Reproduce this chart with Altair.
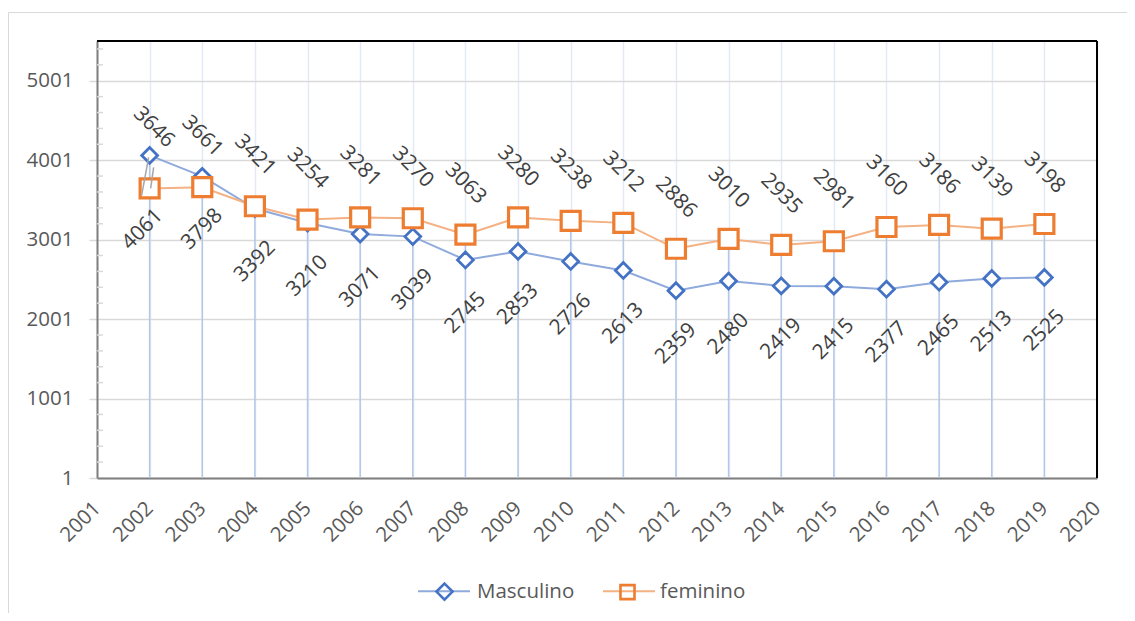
import altair as alt
import pandas as pd

# ---- data ----
years = list(range(2002, 2020))
masculino = [4061, 3798, 3392, 3210, 3071, 3039, 2745, 2853, 2726, 2613,
             2359, 2480, 2419, 2415, 2377, 2465, 2513, 2525]
feminino = [3646, 3661, 3421, 3254, 3281, 3270, 3063, 3280, 3238, 3212,
            2886, 3010, 2935, 2981, 3160, 3186, 3139, 3198]
series_names = ["Masculino", "feminino"]
x_ticks = list(range(2001, 2021))
y_ticks = [1, 1001, 2001, 3001, 4001, 5001]
y_minor = [v for v in range(201, 5501, 200) if v not in y_ticks]
X_MIN, X_MAX = 2001, 2020
Y_MIN, Y_MAX = 1, 5501

FONT = "Open Sans"
BLUE, BLUE_L = "#4472c4", "#8faadc"
ORANGE, ORANGE_L = "#ed7d31", "#f4b183"

df = pd.DataFrame({"year": years, "masc": masculino, "fem": feminino})
df["top"] = df[["masc", "fem"]].max(axis=1)
df["base"] = 1
long_df = pd.DataFrame({
    "year": years * 2,
    "value": masculino + feminino,
    "series": [series_names[0]] * len(years) + [series_names[1]] * len(years),
})
minor_df = pd.DataFrame({"v": y_minor})
one_df = pd.DataFrame({"a": [0]})

x_axis = alt.Axis(values=x_ticks, format="d", title=None, grid=True,
                  gridColor="#e3eaf6", gridWidth=1.5, tickSize=0,
                  domainColor="#7f7f7f", domainWidth=2,
                  labelAngle=315, labelAlign="right", labelBaseline="middle",
                  labelPadding=27, labelFontSize=20.5, labelColor="#595959",
                  labelFont=FONT)
y_axis = alt.Axis(values=y_ticks, format="d", title=None, grid=True,
                  gridColor="#d9d9d9", gridWidth=1.5, tickColor="#d9d9d9",
                  tickSize=8, tickWidth=1.5, domainColor="#7f7f7f",
                  domainWidth=2, labelPadding=16, labelFontSize=20.5,
                  labelColor="#595959", labelFont=FONT)
x_scale = alt.Scale(domain=[X_MIN, X_MAX], nice=False, zero=False)
y_scale = alt.Scale(domain=[Y_MIN, Y_MAX], nice=False, zero=False)


def X(field="year"):
    return alt.X(f"{field}:Q", scale=x_scale, axis=x_axis)


def Y(field):
    return alt.Y(f"{field}:Q", scale=y_scale, axis=y_axis)


base = alt.Chart(df)
one = alt.Chart(one_df)

border = one.mark_rect(
    fill=None, stroke="#d9d9d9", strokeWidth=1
).encode(x=alt.value(-88.5), x2=alt.value(1300), y=alt.value(-28.5), y2=alt.value(700))

# black top and right frame of the plot area
frame_top = one.mark_rule(color="#000000", strokeWidth=2).encode(
    x=alt.datum(X_MIN, scale=x_scale), x2=alt.datum(X_MAX), y=alt.datum(Y_MAX, scale=y_scale))
frame_right = one.mark_rule(color="#000000", strokeWidth=2).encode(
    x=alt.datum(X_MAX, scale=x_scale), y=alt.datum(Y_MIN, scale=y_scale), y2=alt.datum(Y_MAX))

minor = alt.Chart(minor_df).mark_rule(color="#d9d9d9", strokeWidth=1.5).encode(
    x=alt.value(0), x2=alt.value(6), y=Y("v"))

drops = base.mark_rule(color="#b4c7e7", strokeWidth=1.5).encode(
    x=X(), y=Y("top"), y2="base")

line_m = base.mark_line(color=BLUE_L, strokeWidth=2).encode(x=X(), y=Y("masc"))
line_f = base.mark_line(color=ORANGE_L, strokeWidth=2).encode(x=X(), y=Y("fem"))

pts_m = base.mark_point(shape="diamond", size=250, filled=True, fill="white",
                        stroke=BLUE, strokeWidth=2.8, opacity=1).encode(
    x=X(), y=Y("masc"))
pts_f = base.mark_point(shape="square", size=361, filled=True, fill="white",
                        stroke=ORANGE, strokeWidth=3.2, opacity=1).encode(
    x=X(), y=Y("fem"))

txt = dict(font=FONT, fontSize=21, color="#404040", align="center", baseline="middle")
lab_f = base.transform_filter("datum.year > 2002").mark_text(
    angle=45, yOffset=-51, **txt).encode(x=X(), y=Y("fem"), text="fem:Q")
lab_m = base.transform_filter("datum.year > 2002").mark_text(
    angle=315, yOffset=53, **txt).encode(x=X(), y=Y("masc"), text="masc:Q")
lab_f0 = base.transform_filter("datum.year == 2002").mark_text(
    angle=45, xOffset=4, yOffset=-61, **txt).encode(x=X(), y=Y("fem"), text="fem:Q")
lab_m0 = base.transform_filter("datum.year == 2002").mark_text(
    angle=315, xOffset=-7, yOffset=74, **txt).encode(x=X(), y=Y("masc"), text="masc:Q")

lead1 = base.transform_filter("datum.year == 2002").mark_rule(
    color="#a6a6a6", strokeWidth=1.5, xOffset=-1, yOffset=2, x2Offset=-8, y2Offset=40
).encode(x=X(), x2="year", y=Y("masc"), y2="masc")
lead2 = base.transform_filter("datum.year == 2002").mark_rule(
    color="#a6a6a6", strokeWidth=1.5, xOffset=4, yOffset=-21, x2Offset=1, y2Offset=0
).encode(x=X(), x2="year", y=Y("fem"), y2="fem")

# legend: light connecting line (one legend) + marker (second legend) at same place
line_path = "M-1,0L1,0"
diamond_path = "M0,-0.31L0.31,0L0,0.31L-0.31,0Z"
square_path = "M-0.27,-0.27L0.27,-0.27L0.27,0.27L-0.27,0.27Z"
leg_kw = dict(orient="none", legendX=320, legendY=523, direction="horizontal",
              title=None, symbolSize=2704, labelFontSize=20.5,
              labelColor="#595959", labelFont=FONT, labelOffset=5,
              columnPadding=25, padding=0)
leg_line = alt.Legend(symbolStrokeWidth=2, labelOpacity=0, **leg_kw)
leg_mark = alt.Legend(symbolStrokeWidth=2.6, symbolFillColor="white", **leg_kw)

legend_lines = alt.Chart(long_df).transform_filter("datum.value < 0").mark_point(
    filled=False, strokeWidth=2, opacity=1).encode(
    x=X(), y=Y("value"),
    stroke=alt.Stroke("series:N", scale=alt.Scale(domain=series_names, range=[BLUE_L, ORANGE_L]), legend=leg_line),
    shape=alt.Shape("series:N", scale=alt.Scale(domain=series_names, range=[line_path, line_path]), legend=leg_line),
)
legend_marks = alt.Chart(long_df).transform_filter("datum.value < 0").mark_point(
    filled=False, strokeWidth=2.6, opacity=1).encode(
    x=X(), y=Y("value"),
    color=alt.Color("series:N", scale=alt.Scale(domain=series_names, range=[BLUE, ORANGE]), legend=leg_mark),
    shape=alt.Shape("series:N", scale=alt.Scale(domain=series_names, range=[diamond_path, square_path]), legend=leg_mark),
)

chart = alt.layer(
    border, minor, drops, line_m, pts_m, line_f, pts_f,
    lead1, lead2, lab_f, lab_m, lab_f0, lab_m0, frame_top, frame_right,
    legend_lines, legend_marks
).resolve_scale(color="independent", shape="independent", stroke="independent").properties(
    width=1000, height=437,
    autosize=alt.AutoSizeParams(type="none"),
    padding={"left": 89, "top": 33, "right": 30, "bottom": 135},
    background="white",
).configure(font=FONT).configure_view(stroke=None)

chart.save("out.html", embed_options={"renderer": "svg", "actions": False})
